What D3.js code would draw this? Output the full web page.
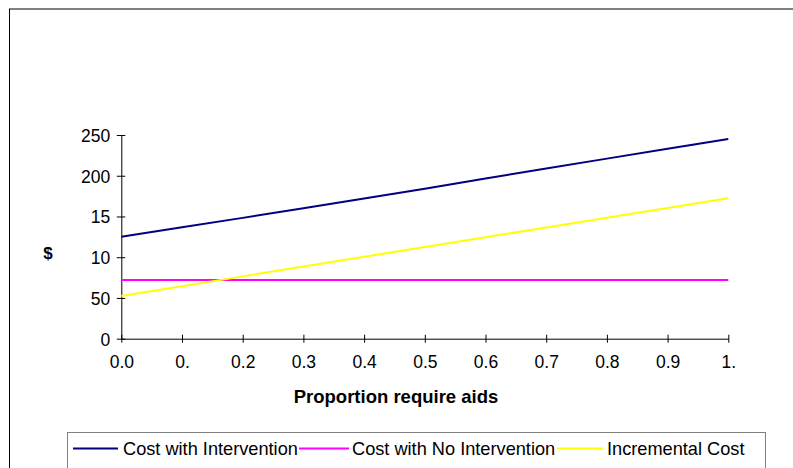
<!DOCTYPE html>
<html><head><meta charset="utf-8">
<script src="https://cdn.jsdelivr.net/npm/d3@7"></script>
<style>body{margin:0;background:#fff}svg{display:block}text{font-family:"Liberation Sans",Arial,sans-serif;fill:#000}</style>
</head><body><svg id="c" width="793" height="468"></svg>
<script>
const xValues = [0.0,0.1,0.2,0.3,0.4,0.5,0.6,0.7,0.8,0.9,1.0];
const xTickLabels = ["0.0","0.","0.2","0.3","0.4","0.5","0.6","0.7","0.8","0.9","1."];
const yTickValues = [0,50,100,150,200,250];
const yTickLabels = ["0","50","10","15","200","250"];
const seriesNames = ["Cost with Intervention","Cost with No Intervention","Incremental Cost"];
const costWithIntervention = [125,136.7,148.3,160,172,184,196.5,209,221,233,245];
const costNoIntervention = [72,72,72,72,72,72,72,72,72,72,72];
const incrementalCost = [52.5,64.5,76.5,88.5,100.5,112.5,124.5,136.5,148.5,160.5,172.5];
const seriesColors = ["#000080","#FF00FF","#FFFF00"];

const svg = d3.select("#c");
const x = d3.scaleLinear().domain([0,1]).range([121.3,728.3]);
const y = d3.scaleLinear().domain([0,250]).range([338.7,135]);

// outer chart border (clipped)
svg.append("line").attr("x1",9).attr("x2",793).attr("y1",9).attr("y2",9).attr("stroke","#808080").attr("stroke-width",2);
svg.append("line").attr("x1",9.5).attr("x2",9.5).attr("y1",9).attr("y2",468).attr("stroke","#000").attr("stroke-width",1);

// y axis
const yAxis = d3.axisLeft(y).tickValues(yTickValues).tickFormat((d,i)=>yTickLabels[i]).tickSize(0).tickPadding(11);
const gy = svg.append("g").attr("transform","translate(121.3,0)").call(yAxis);
gy.select(".domain").attr("stroke","#000");
gy.selectAll(".tick line").attr("x1",-4.5).attr("x2",4).attr("stroke","#000");
gy.selectAll(".tick text").style("font-size","17.5px").attr("dy","0.36em");

// x axis
const xAxis = d3.axisBottom(x).tickValues(xValues).tickFormat((d,i)=>xTickLabels[i]).tickSize(0).tickPadding(17);
const gx = svg.append("g").attr("transform","translate(0,338.7)").call(xAxis);
gx.select(".domain").attr("stroke","#000");
gx.selectAll(".tick line").attr("y1",-4).attr("y2",4).attr("stroke","#000");
gx.selectAll(".tick text").style("font-size","17.5px");

// lines
const allSeries = [costWithIntervention,costNoIntervention,incrementalCost];
const line = d3.line().x((d,i)=>x(xValues[i])).y(d=>y(d));
allSeries.forEach((s,k)=>{
  svg.append("path").datum(s).attr("d",line).attr("fill","none").attr("stroke",seriesColors[k]).attr("stroke-width",2);
});

// axis titles
svg.append("text").attr("x",396).attr("y",403).attr("text-anchor","middle").style("font-size","18.5px").style("font-weight","bold").text("Proportion require aids");
svg.append("text").attr("x",48).attr("y",259).attr("text-anchor","middle").style("font-size","17px").style("font-weight","bold").text("$");

// legend
svg.append("rect").attr("x",67.5).attr("y",432.5).attr("width",698).attr("height",60).attr("fill","none").attr("stroke","#808080").attr("stroke-width",1);
const legX = [73,299,557];
const legTextX = [123,352,607];
const legEndX = [118,349,603];
seriesNames.forEach((n,k)=>{
  svg.append("line").attr("x1",legX[k]).attr("x2",legEndX[k]).attr("y1",448.5).attr("y2",448.5).attr("stroke",seriesColors[k]).attr("stroke-width",2);
  svg.append("text").attr("x",legTextX[k]).attr("y",455).style("font-size","18.2px").text(n);
});
</script></body></html>
